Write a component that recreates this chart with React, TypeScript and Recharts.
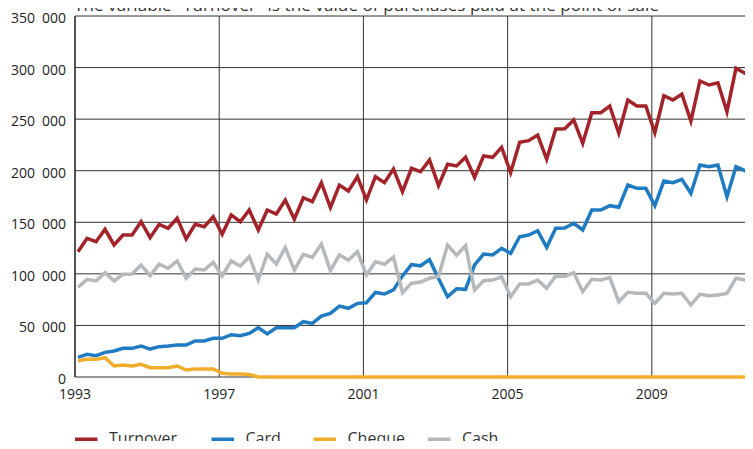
import { CartesianGrid, Line, LineChart, XAxis, YAxis } from "recharts";

// quarterly figures, 1993 Q1 to 2011 Q4
const startYear = 1993;

const turnover = [
  121500, 134500, 131200, 143200, 128000, 137700, 137700, 150600, 135100, 148000,
  144200, 153900, 133800, 148000, 145700, 155400, 138300, 157100, 150500, 161900,
  142500, 161900, 158000, 171600, 152900, 173800, 170000, 188400, 164200, 186100,
  180300, 194200, 171600, 194200, 188400, 201700, 179700, 202300, 199000, 210400,
  185500, 206200, 204600, 213000, 193600, 214300, 213000, 222700, 198100, 227500,
  229100, 234600, 211100, 240400, 240600, 249200, 226600, 256300, 256300, 262700,
  236300, 268600, 262700, 262700, 236900, 272700, 268600, 274100, 248200, 287000,
  283100, 285300, 257200, 299300, 294400, 294400,
];

const card = [
  19100, 22000, 20700, 23900, 25200, 27800, 27800, 30100, 27100, 29400,
  30100, 31000, 31000, 34900, 34900, 37500, 37500, 41000, 40000, 42300,
  47800, 41700, 47800, 47800, 47800, 53600, 52000, 59100, 61700, 68800,
  66600, 71400, 72000, 82000, 80500, 84500, 98000, 109000, 107800, 113800,
  95600, 77800, 85500, 85000, 108600, 119200, 118300, 124800, 119900, 136000,
  137700, 141800, 125700, 144200, 144500, 149000, 142500, 161900, 161900, 166100,
  164500, 186100, 182900, 182900, 166100, 190000, 188400, 191700, 178100, 205500,
  203900, 205500, 174800, 203900, 200000, 200000,
];

const cheque = [
  15800, 17100, 17100, 18700, 10700, 11600, 10700, 12300, 9000, 9000,
  9000, 10700, 6800, 7800, 7800, 7800, 3600, 2900, 2900, 2500,
  0, 0, 0, 0, 0, 0, 0, 0, 0, 0,
  0, 0, 0, 0, 0, 0, 0, 0, 0, 0,
  0, 0, 0, 0, 0, 0, 0, 0, 0, 0,
  0, 0, 0, 0, 0, 0, 0, 0, 0, 0,
  0, 0, 0, 0, 0, 0, 0, 0, 0, 0,
  0, 0, 0, 0, 0, 0,
];

const cash = [
  87000, 94700, 93100, 101100, 93100, 99600, 99900, 108600, 98200, 109300,
  105400, 112500, 95700, 104700, 103700, 111200, 97900, 112500, 107500, 116600,
  94000, 119000, 109600, 125400, 103700, 119000, 116000, 128900, 103100, 118300,
  113400, 121500, 98900, 111800, 109300, 116300, 81700, 91000, 92000, 95700,
  97500, 128000, 118000, 127300, 84300, 93400, 94000, 97200, 77800, 90200,
  90200, 94000, 86000, 97900, 97500, 101100, 82700, 94700, 94000, 96300,
  73000, 82100, 81100, 81100, 71400, 81100, 80500, 81100, 69800, 80200,
  78800, 79500, 81100, 95700, 94000, 94000,
];

const yearTicks = [1993, 1997, 2001, 2005, 2009];
const valueTicks = [0, 50000, 100000, 150000, 200000, 250000, 300000, 350000];

const series = [
  { key: "turnover", name: "Turnover", color: "#a3232a" },
  { key: "card", name: "Card", color: "#1f7bc2" },
  { key: "cheque", name: "Cheque", color: "#f1ae2c" },
  { key: "cash", name: "Cash", color: "#b6b9bc" },
];

const title = 'The variable "Turnover" is the value of purchases paid at the point of sale';

// each quarter is plotted at its middle month
const data = turnover.map((v, i) => ({
  t: startYear + Math.floor(i / 4) + (i % 4) / 4 + 1 / 12,
  turnover: v,
  card: card[i],
  cheque: cheque[i],
  cash: cash[i],
}));

// thousands grouped with a wide space, as in the print
const fmt = (v: number) => String(v).replace(/\B(?=(\d{3})+(?!\d))/g, "\u2002");

const font = "'Open Sans', sans-serif";

const YTick = ({ x, y, payload }: any) => (
  <text x={x} y={y} dy={7} textAnchor="end" fill="#222" fontSize={14} fontFamily={font}>
    {fmt(payload.value)}
  </text>
);

const XTick = ({ x, y, payload }: any) => (
  <text x={x} y={y} dy={14} textAnchor="middle" fill="#222" fontSize={14} fontFamily={font}>
    {payload.value}
  </text>
);

const legendX = [75, 211.5, 313.5, 428];

export default function App() {
  return (
    <div
      style={{
        position: "relative",
        width: 753,
        height: 449,
        margin: -8,
        overflow: "hidden",
        background: "#fff",
      }}
    >
      <div style={{ position: "absolute", left: 0, top: 0 }}>
        <LineChart width={760} height={410} data={data} margin={{ top: 16, right: 0, bottom: 3, left: 0 }}>
          {/* the grid also draws the bottom axis line, so the cheque line stays on top of it */}
          <CartesianGrid stroke="#333" strokeWidth={1} />
          <XAxis
            dataKey="t"
            type="number"
            domain={[1993, 2012]}
            ticks={yearTicks}
            height={30}
            axisLine={false}
            tickLine={false}
            tick={<XTick />}
          />
          <YAxis
            type="number"
            domain={[0, 350000]}
            ticks={valueTicks}
            width={75}
            axisLine={{ stroke: "#111" }}
            tickLine={false}
            tickMargin={3}
            tick={<YTick />}
          />
          {series.map((s) => (
            <Line
              key={s.key}
              type="linear"
              dataKey={s.key}
              name={s.name}
              stroke={s.color}
              strokeWidth={3.5}
              dot={false}
              activeDot={false}
              isAnimationActive={false}
            />
          ))}
        </LineChart>
      </div>

      <svg
        width={753}
        height={449}
        style={{ position: "absolute", left: 0, top: 0, pointerEvents: "none" }}
        fontFamily={font}
        fontSize={16}
      >
        <text x={74} y={11} fill="#333" fontSize={17} textLength={585} lengthAdjust="spacing">
          {title}
        </text>
        {series.map((s, i) => (
          <g key={s.key}>
            <line x1={legendX[i]} x2={legendX[i] + 22.5} y1={439.5} y2={439.5} stroke={s.color} strokeWidth={4} />
            <text x={legendX[i] + 34} y={444} fill="#333">
              {s.name}
            </text>
          </g>
        ))}
      </svg>
    </div>
  );
}
